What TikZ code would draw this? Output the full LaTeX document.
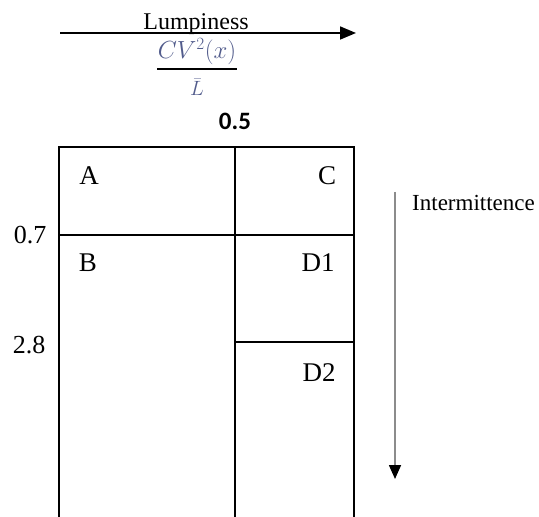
\documentclass[tikz,border=0pt]{standalone}
\usepackage{fontspec}
\setmainfont{Liberation Serif}
\newfontfamily\digitfont{Carlito}
\usetikzlibrary{arrows.meta}

\definecolor{mathink}{rgb}{0.32,0.36,0.55}
\definecolor{axisgray}{rgb}{0.55,0.55,0.55}

\tikzset{
  gridline/.style={line width=1.6bp, black},
  cell/.style={inner sep=0pt, font=\fontsize{27bp}{30bp}\selectfont},
  bound/.style={inner sep=0pt, font=\fontsize{26bp}{28bp}\selectfont},
  axistext/.style={inner sep=0pt, font=\fontsize{24bp}{26bp}\selectfont},
  haxis/.style={line width=1.7bp, -{Triangle[length=16bp,width=13bp]}},
  vaxis/.style={line width=1.6bp, axisgray, -{Triangle[length=14bp,width=12bp,color=black]}},
}

\begin{document}
\begin{tikzpicture}[x=1bp,y=-1bp]
\useasboundingbox (0,0) rectangle (539,517);

% classification grid (open at the bottom)
\coordinate (tl) at (59,147);
\coordinate (tm) at (235,147);
\coordinate (tr) at (354,147);
\coordinate (bl) at (59,517);
\coordinate (bm) at (235,517);
\coordinate (br) at (354,517);
\coordinate (ml) at (59,235);
\coordinate (mr) at (354,235);
\coordinate (dl) at (235,342);
\coordinate (dr) at (354,342);

\draw[gridline] (bl) -- (tl) -- (tr) -- (br);
\draw[gridline] (tm) -- (bm);
\draw[gridline] (ml) -- (mr);
\draw[gridline] (dl) -- (dr);

% quadrant labels
\node[cell] (A)  at (89,176)  {A};
\node[cell] (C)  at (327,176) {C};
\node[cell] (B)  at (88,263)  {B};
\node[cell] (D1) at (318,263) {D1};
\node[cell] (D2) at (319,373) {D2};

% cut-off values
\node[bound] (v07) at (30,235) {0.7};
\node[bound] (v28) at (29,345) {2.8};
\node[bound, font=\digitfont\bfseries\fontsize{25bp}{28bp}\selectfont] (v05) at (235,121) {0.5};

% lumpiness axis
\coordinate (lumpS) at (60,33);
\coordinate (lumpE) at (356,33);
\draw[haxis] (lumpS) -- (lumpE);
\node[axistext, anchor=base] (lump) at (196,30) {Lumpiness};

% lumpiness measure: CV^2(x) over mean demand
\node[inner sep=0pt, text=mathink, font=\fontsize{23bp}{24bp}\selectfont] (num) at (197,52) {$CV^2(x)$};
\coordinate (barL) at (157,69);
\coordinate (barR) at (237,69);
\draw[line width=1.8bp] (barL) -- (barR);
\node[inner sep=0pt, text=mathink, font=\fontsize{19bp}{22bp}\selectfont] (den) at (197,87) {$\bar{L}$};

% intermittence axis
\coordinate (intS) at (395,192);
\coordinate (intE) at (395,479);
\draw[vaxis] (intS) -- (intE);
\node[axistext, font=\fontsize{23bp}{26bp}\selectfont, anchor=west] (inter) at (412,203) {Intermittence};
\end{tikzpicture}
\end{document}
